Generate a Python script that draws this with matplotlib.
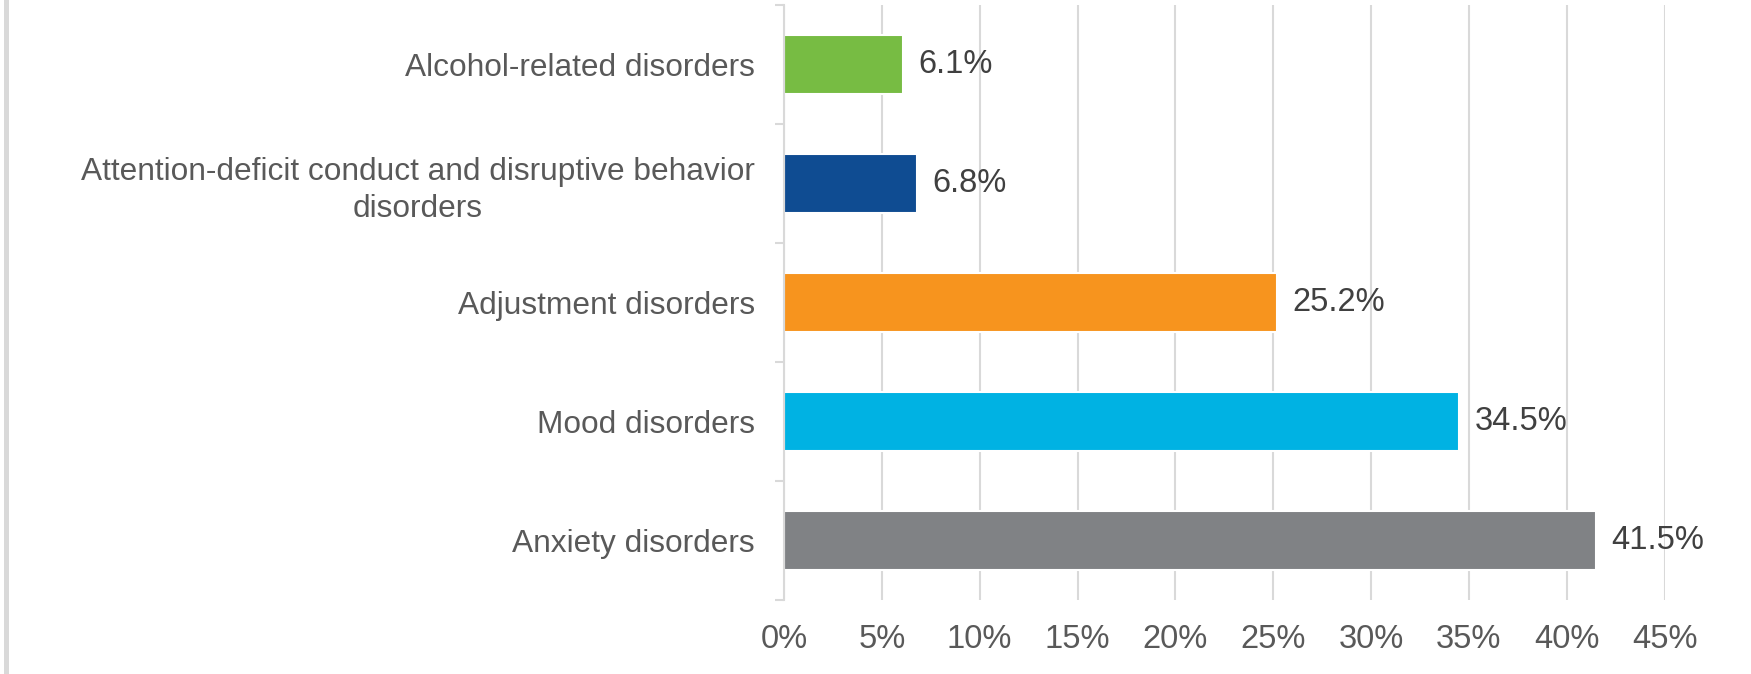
import matplotlib
matplotlib.use("Agg")
import matplotlib.pyplot as plt
from matplotlib.ticker import FixedLocator, FuncFormatter
import numpy as np

plt.rcParams['font.family'] = ['Liberation Sans', 'DejaVu Sans']

# dati (dal basso verso l'alto)
categorie = ["Anxiety disorders",
             "Mood disorders",
             "Adjustment disorders",
             "Attention-deficit conduct and disruptive behavior\ndisorders",
             "Alcohol-related disorders"]
valori = [41.5, 34.5, 25.2, 6.8, 6.1]
colori = ["#808285", "#00b2e3", "#f7941e", "#0f4c92", "#77bc43"]
xticks = [0, 5, 10, 15, 20, 25, 30, 35, 40, 45]

fig = plt.figure(figsize=(17.51, 6.74), dpi=100)
ax = fig.add_axes([0.4477, 0.1098, 0.5030, 0.8828])

y = np.arange(len(categorie))
ax.barh(y, valori, height=0.5, color=colori, edgecolor="white", linewidth=1.5, zorder=2)

# etichette dei valori
for yi, v in zip(y, valori):
    ax.annotate(f"{v:.1f}%", (v, yi), xytext=(11, 0), textcoords="offset points",
                va="center", ha="left", fontsize=23.5, color="#404040")

ax.set_xlim(0, 45)
ax.set_ylim(-0.5, len(categorie) - 0.5)
ax.set_xticks(xticks)
ax.xaxis.set_major_formatter(FuncFormatter(lambda v, p: f"{v:.0f}%"))
ax.grid(axis="x", color="#d9d9d9", linewidth=1.5, zorder=0)
ax.set_yticks(y)
ax.set_yticklabels(categorie, multialignment="center", linespacing=1.3)
ax.yaxis.set_minor_locator(FixedLocator(np.arange(-0.5, len(categorie), 1)))

for s in ["top", "right", "bottom"]:
    ax.spines[s].set_visible(False)
ax.spines["left"].set_color("#d9d9d9")
ax.spines["left"].set_linewidth(1.5)

ax.tick_params(axis="x", length=0, pad=17, labelsize=23.5, labelcolor="#595959")
ax.tick_params(axis="y", which="major", length=0, pad=21, labelsize=22.8, labelcolor="#595959")
ax.tick_params(axis="y", which="minor", length=6.5, width=1.5, color="#d9d9d9")

# barra grigia a sinistra
fig.add_artist(plt.Rectangle((4 / 1751, 0), 5 / 1751, 1, transform=fig.transFigure,
                             color="#d9d9d9", lw=0))

fig.savefig("out.png", dpi=100)
